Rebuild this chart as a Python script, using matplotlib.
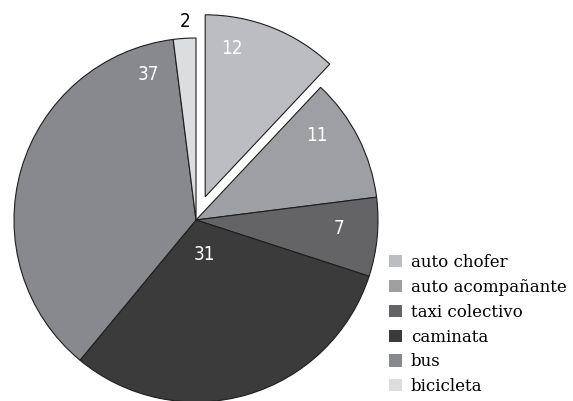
import numpy as np
import matplotlib.pyplot as plt
from matplotlib.patches import Patch

categories = ["auto chofer", "auto acompañante", "taxi colectivo", "caminata", "bus", "bicicleta"]
values = [12, 11, 7, 31, 37, 2]
colors = ["#bcbdc0", "#9e9fa2", "#646466", "#3b3b3c", "#88898c", "#dcdddf"]
explode = [0.137, 0, 0, 0, 0, 0]

# label placement (x, y in pie radius units), colour of each number
label_xy = [(0.198, 0.945), (0.665, 0.467), (0.786, -0.049), (0.049, -0.192), (-0.264, 0.797), (-0.060, 1.093)]
label_col = ["white", "white", "white", "white", "white", "black"]

W, H = 573, 401
cx, cy, R = 196, 220, 182

fig = plt.figure(figsize=(W/100, H/100), dpi=100)
ax = fig.add_axes([0, 0, 1, 1])
wedges, _ = ax.pie(values, colors=colors, explode=explode, startangle=90, counterclock=False,
		wedgeprops=dict(edgecolor="#1e1e1e", linewidth=0.8))
ax.set_aspect("auto")
ax.set_xlim(-cx/R, (W-cx)/R)
ax.set_ylim((cy-H)/R, cy/R)
ax.axis("off")

for v, (x, y), c in zip(values, label_xy, label_col):
	ax.text(x, y, str(v), color=c, fontsize=13.5, ha="center", va="center",
			family="DejaVu Sans", fontstretch="condensed")

handles = [Patch(facecolor=c, edgecolor="none") for c in colors]
ax.legend(handles, categories, loc="upper left", bbox_to_anchor=(389/W, 1-254/H), frameon=False,
		prop=dict(family="DejaVu Serif", size=12), handlelength=0.75, handleheight=0.75,
		handletextpad=0.55, labelspacing=0.47, borderpad=0, borderaxespad=0)

fig.savefig("out.png", dpi=100)
